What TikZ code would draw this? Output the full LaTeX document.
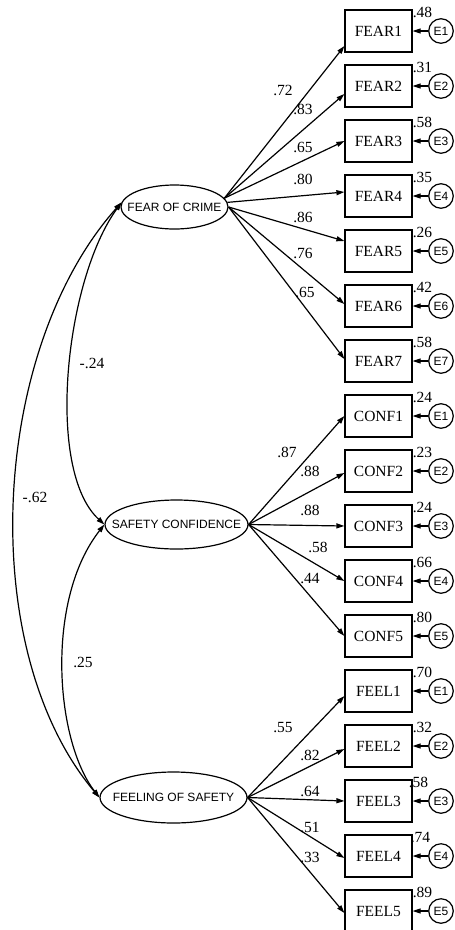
\documentclass[tikz,border=0pt]{standalone}
\usepackage{fontspec}
\setmainfont{Liberation Serif}
\newfontfamily\sansf{Liberation Sans}
\usetikzlibrary{shapes.geometric,arrows.meta}
\tikzset{
  obs/.style={draw, line width=1.2pt, minimum width=67pt, minimum height=42pt, inner sep=0pt, fill=white, font=\fontsize{15.5}{15.5}\selectfont},
  lat/.style={draw, ellipse, line width=1.2pt, inner sep=0pt},
  lattext/.style={font=\sansf\fontsize{12}{12}\selectfont},
  err/.style={draw, circle, line width=1.2pt, minimum size=24.5pt, inner sep=0pt, fill=white, font=\sansf\fontsize{12}{12}\selectfont},
  arr/.style={line width=1.2pt, -{Triangle[length=8pt,width=5pt]}},
  biarr/.style={line width=1.2pt, {Triangle[length=8pt,width=5pt]}-{Triangle[length=8pt,width=5pt]}},
  lbl/.style={font=\fontsize{15.5}{15.5}\selectfont, inner sep=0pt}
}
\begin{document}
\begin{tikzpicture}[x=1pt,y=-1pt]
\path[use as bounding box, fill=white] (0,0) rectangle (455,930);

% latent variables
\node[lat, minimum width=107pt, minimum height=44pt, label={[lattext]center:FEAR OF CRIME}] (fc) at (174.5,207) {};
\node[lat, minimum width=143pt, minimum height=49pt, label={[lattext]center:SAFETY CONFIDENCE}] (sc) at (176.5,524.5) {};
\node[lat, minimum width=147pt, minimum height=51pt, label={[lattext]center:FEELING OF SAFETY}] (fs) at (173.5,797.5) {};

% observed variables, errors, loadings
\foreach \t/\v/\e/\lx/\ly/\lv/\off/\src/\vx [count=\i from 0] in {
FEAR1/.48/E1/283/90/.72/-15/fc.10/0,
FEAR2/.31/E2/303/109/.83/-8/fc.10/0,
FEAR3/.58/E3/303/147/.65/0/fc.10/0,
FEAR4/.35/E4/303/179/.80/4/fc.5/0,
FEAR5/.26/E5/303/217/.86/10/fc.east/0,
FEAR6/.42/E6/303/253/.76/2/fc.east/0,
FEAR7/.58/E7/305/292/.65/2/fc.east/0,
CONF1/.24/E1/287/452/.87/0/sc.east/0,
CONF2/.23/E2/310/471/.88/-2/sc.east/0,
CONF3/.24/E3/310/510/.88/0/sc.east/0,
CONF4/.66/E4/318/547/.58/0/sc.east/0,
CONF5/.80/E5/310/578/.44/0/sc.east/0,
FEEL1/.70/E1/283/728/.55/-5/fs.east/0,
FEEL2/.32/E2/310/755/.82/-3/fs.east/0,
FEEL3/.58/E3/310/791/.64/0/fs.east/-4,
FEEL4/.74/E4/310/827/.51/-2/fs.east/-2,
FEEL5/.89/E5/310/857/.33/-2/fs.east/0}{
  \pgfmathsetmacro{\yy}{31+55*\i}
  \node[obs] (b\i) at (378.5,\yy) {\t};
  \node[err] (e\i) at (441,\yy) {\e};
  \draw[arr] (e\i.west) -- (b\i.east);
  \node[lbl, anchor=west, xshift=\vx pt, yshift=-3pt] at (b\i.north east) {\v};
  \draw[arr] (\src) -- ([yshift=\off pt]b\i.west);
  \node[lbl] at (\lx,\ly) {\lv};
}

% covariances
\draw[biarr] (fc.175) .. controls (65,280) and (45,470) .. (sc.west);
\draw[biarr] (fc.175) .. controls (-10,350) and (-25,650) .. (fs.west);
\draw[biarr] (sc.west) .. controls (45,600) and (55,740) .. (fs.west);
\node[lbl] (c1) at (92,363) {-.24};
\node[lbl] (c2) at (35,497) {-.62};
\node[lbl] (c3) at (83,662) {.25};
\end{tikzpicture}
\end{document}
